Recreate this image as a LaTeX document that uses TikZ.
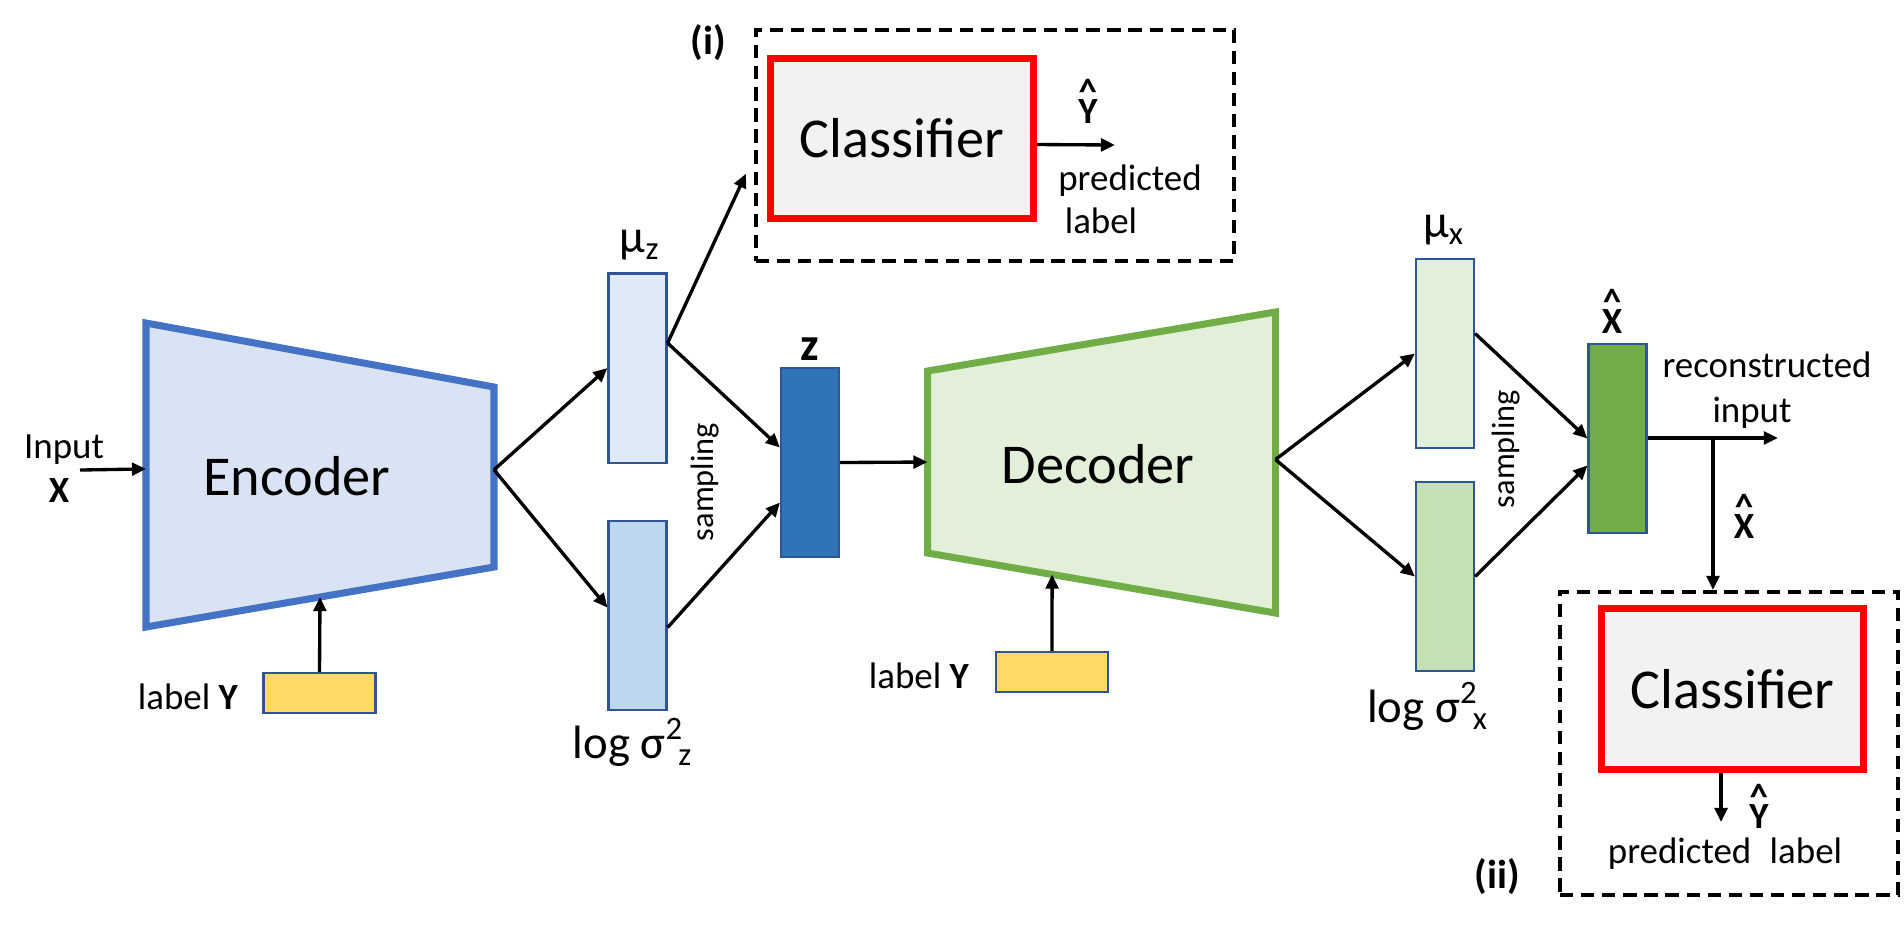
\documentclass[tikz,border=0pt]{standalone}
\usepackage{fontspec}
\setmainfont{Carlito}
\usetikzlibrary{calc, positioning}
\usetikzlibrary{arrows.meta}

\definecolor{encline}{HTML}{4472C4}
\definecolor{encfill}{HTML}{DAE3F3}
\definecolor{decline}{HTML}{70AD47}
\definecolor{decfill}{HTML}{E2F0D9}
\definecolor{boxline}{HTML}{2F5597}
\definecolor{muzfill}{HTML}{DEEBF7}
\definecolor{varzfill}{HTML}{BDD7EE}
\definecolor{zfill}{HTML}{2E75B6}
\definecolor{muxfill}{HTML}{E2F0D9}
\definecolor{varxfill}{HTML}{C5E0B4}
\definecolor{xhatfill}{HTML}{70AD47}
\definecolor{yfill}{HTML}{FFD966}
\definecolor{clsfill}{HTML}{F2F2F2}

% caret set above a letter
\newcommand{\hatlet}[1]{\setbox0\hbox{#1}%
  \rlap{\hbox to\wd0{\hss\raisebox{0.5em}{\textasciicircum}\hss}}#1}

\begin{document}
\begin{tikzpicture}[x=0.01cm, y=-0.01cm,
  vec/.style={draw=boxline, line width=0.6pt, inner sep=0pt,
    minimum width=0.58cm, minimum height=1.89cm},
  ybox/.style={draw=boxline, line width=0.6pt, fill=yfill, inner sep=0pt,
    minimum width=1.12cm, minimum height=0.40cm},
  clsbox/.style={draw=red, line width=2pt, fill=clsfill, inner sep=0pt,
    minimum width=2.62cm, minimum height=1.6cm, font=\fontsize{16}{19}\selectfont},
  dashbox/.style={draw, line width=1.1pt, dash pattern=on 3.8pt off 2.2pt, inner sep=0pt},
  arr/.style={-{Triangle[length=4pt,width=3.6pt]}, line width=0.95pt},
  txtbig/.style={font=\fontsize{16}{19}\selectfont},
  txtmid/.style={font=\fontsize{13.3}{16}\selectfont},
  txtsmall/.style={font=\fontsize{10.5}{12.5}\selectfont},
  txtsamp/.style={font=\fontsize{9.2}{11}\selectfont},
]
\useasboundingbox (0,0) rectangle (1904,926);

% encoder
\coordinate (E1) at (146,323);
\coordinate (E2) at (494,387);
\coordinate (E3) at (494,567);
\coordinate (E4) at (146,627);
\draw[encline, fill=encfill, line width=2pt] (E1) -- (E2) -- (E3) -- (E4) -- cycle;
\node[txtbig, anchor=base] (enc) at (297,495) {Encoder};
\coordinate (encin) at ($(E1)!0.48!(E4)$);
\coordinate (encout) at ($(E2)!0.46!(E3)$);

\node[txtsmall, anchor=base] (inlab) at (64,458) {Input};
\node[txtsmall, anchor=base] (inx) at (59,502) {\textbf{X}};
\coordinate (instart) at (80,470);
\draw[arr] (instart) -- (encin);

\node[ybox] (ylab1) at (319.5,693) {};
\node[txtsmall, anchor=base] (ytxt1) at (188,709) {label \textbf{Y}};
\draw[arr] (ylab1.north) -- ($(E4)!0.5!(E3)$);

% latent
\node[vec, fill=muzfill] (muz) at (637.5,368) {};
\node[vec, fill=varzfill] (varz) at (637.5,615.5) {};
\node[vec, fill=zfill] (z) at (810,462.5) {};
\node[txtmid, anchor=base] (muzlab) at (640,252) {μ\textsubscript{z}};
\node[txtmid, anchor=base] (varzlab) at (633,758) {log σ\textsuperscript{2}\kern-0.12em\textsubscript{z}};
\node[txtmid, anchor=base] (zlab) at (810,360) {\textbf{z}};
\node[txtsamp, rotate=90] (samp1) at (705,482) {sampling};

\draw[arr] (encout) -- (muz.west);
\draw[arr] (encout) -- ($(varz.west)+(0,-8)$);
\draw[arr] ($(muz.east)+(0,-25)$) -- ($(z.west)+(0,-15)$);
\draw[arr] ($(varz.east)+(0,12)$) -- ($(z.west)+(0,40)$);

% classifier (i)
\node[dashbox, minimum width=4.78cm, minimum height=2.31cm] (frame1) at (995,145.5) {};
\node[clsbox] (cls1) at (902,138.5) {Classifier};
\node[font=\fontsize{11.5}{14}\selectfont\bfseries] (tagi) at (708,43) {(i)};
\coordinate (yout1) at (1115,145);
\draw[arr] ($(cls1.east)+(0,6)$) -- (yout1);
\node[txtsmall, anchor=base] (yhat1) at (1088,123) {\textbf{\hatlet{Y}}};
\node[txtsmall, anchor=base] (pred1) at (1130,190) {predicted};
\node[txtsmall, anchor=base] (lab1) at (1101,233) {label};
\draw[arr] ($(muz.east)+(0,-25)$) -- ($(frame1.south west)!0.38!(frame1.north west)+(-8,0)$);

% decoder
\coordinate (D1) at (927.5,371);
\coordinate (D2) at (1275.5,312);
\coordinate (D3) at (1275.5,613);
\coordinate (D4) at (927.5,553);
\draw[decline, fill=decfill, line width=2pt] (D1) -- (D2) -- (D3) -- (D4) -- cycle;
\node[txtbig, anchor=base] (dec) at (1098,483) {Decoder};
\coordinate (decin) at ($(D1)!0.5!(D4)$);
\coordinate (decout) at ($(D2)!0.49!(D3)$);
\draw[arr] (z.east) -- (decin);

\node[ybox] (ylab2) at (1052,672) {};
\node[txtsmall, anchor=base] (ytxt2) at (919,688) {label \textbf{Y}};
\draw[arr] (ylab2.north) -- ($(D4)!0.358!(D3)$);

% output
\node[vec, fill=muxfill] (mux) at (1445,353.5) {};
\node[vec, fill=varxfill] (varx) at (1445,576.5) {};
\node[vec, fill=xhatfill] (xhat) at (1617.5,438.5) {};
\node[txtmid, anchor=base] (muxlab) at (1444,237) {μ\textsubscript{x}};
\node[txtmid, anchor=base] (varxlab) at (1428,722) {log σ\textsuperscript{2}\kern-0.12em\textsubscript{x}};
\node[txtsmall, anchor=base] (xhatlab) at (1612,333) {\textbf{\hatlet{X}}};
\node[txtsamp, rotate=90] (samp2) at (1506,449) {sampling};

\draw[arr] (decout) -- (mux.west);
\draw[arr] (decout) -- (varx.west);
\draw[arr] ($(mux.east)+(0,-20)$) -- (xhat.west);
\draw[arr] (varx.east) -- ($(xhat.west)+(0,27)$);

\coordinate (recout) at (1778,438);
\draw[arr] (xhat.east |- recout) -- (recout);
\node[txtsmall, anchor=base] (rec1) at (1767,377) {reconstructed};
\node[txtsmall, anchor=base] (rec2) at (1752,422) {input};

% classifier (ii)
\node[dashbox, minimum width=3.38cm, minimum height=3.03cm] (frame2) at (1729,743.5) {};
\node[clsbox] (cls2) at (1732.5,689) {Classifier};
\node[font=\fontsize{11.5}{14}\selectfont\bfseries] (tagii) at (1497,877) {(ii)};
\coordinate (br) at (1713,438);
\draw[arr] (br) -- (br |- frame2.north);
\node[txtsmall, anchor=base] (xhatlab2) at (1744,538) {\textbf{\hatlet{X}}};
\coordinate (yout2) at (1721,822);
\draw[arr] (cls2.south -| yout2) -- (yout2);
\node[txtsmall, anchor=base] (yhat2) at (1759,828) {\textbf{\hatlet{Y}}};
\node[txtsmall, anchor=base] (pred2) at (1725,863) {predicted\hspace{0.5em}label};
\end{tikzpicture}
\end{document}
